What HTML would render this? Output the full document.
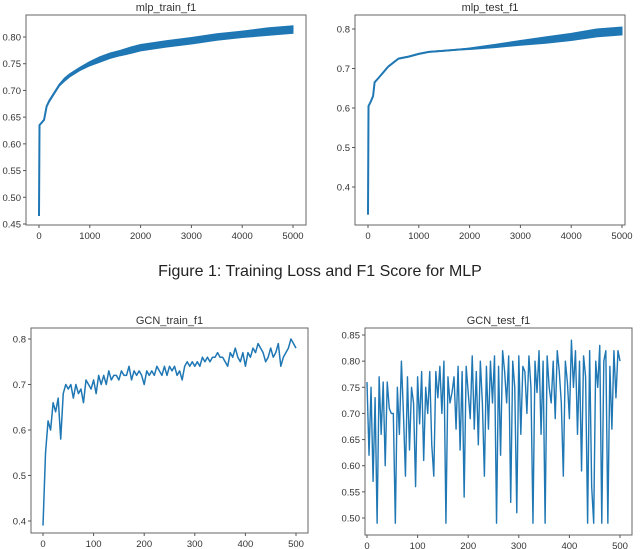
<!DOCTYPE html>
<html><head><meta charset="utf-8">
<style>
body{margin:0;background:#fff;width:640px;height:549px;overflow:hidden}
svg{display:block}
text{font-family:"Liberation Sans",sans-serif;fill:#333}
</style></head>
<body>
<svg id="fig" width="640" height="549">
<text x="320" y="276" text-anchor="middle" style="font-size:16px;fill:#222">Figure 1: Training Loss and F1 Score for MLP</text>
</svg>
<script>
// MLP train
const mlpTrainX=[0,10,100,150,200,300,400,500,600,800,1000,1200,1400,1600,1800,2000,2500,3000,3500,4000,4500,5000];
const mlpTrainY=[0.465,0.635,0.645,0.67,0.68,0.695,0.71,0.72,0.728,0.74,0.75,0.758,0.765,0.77,0.775,0.78,0.787,0.793,0.80,0.805,0.81,0.814];
const mlpTrainNoise=[0,0,0.001,0.001,0.002,0.002,0.002,0.003,0.003,0.003,0.004,0.005,0.005,0.005,0.006,0.006,0.006,0.006,0.006,0.006,0.007,0.007];
const mlpTrainTicksY=[0.45,0.50,0.55,0.60,0.65,0.70,0.75,0.80];
// MLP test
const mlpTestX=[0,10,50,100,130,200,300,400,500,600,800,1000,1200,1500,1800,2000,2500,3000,3500,4000,4500,5000];
const mlpTestY=[0.33,0.605,0.615,0.63,0.665,0.675,0.69,0.705,0.715,0.725,0.73,0.737,0.742,0.745,0.748,0.75,0.757,0.765,0.772,0.78,0.79,0.795];
const mlpTestNoise=[0,0,0,0,0,0,0,0,0.001,0.001,0.001,0.001,0.001,0.001,0.001,0.002,0.004,0.006,0.008,0.009,0.01,0.01];
const mlpTestTicksY=[0.4,0.5,0.6,0.7,0.8];
const mlpTicksX=[0,1000,2000,3000,4000,5000];
// GCN train (every 5 epochs)
const gcnTrainY=[0.39,0.55,0.62,0.60,0.66,0.64,0.67,0.58,0.68,0.70,0.69,0.70,0.67,0.70,0.68,0.69,0.66,0.71,0.70,0.69,0.71,0.68,0.72,0.70,0.72,0.70,0.73,0.71,0.72,0.72,0.71,0.73,0.72,0.72,0.74,0.71,0.73,0.72,0.73,0.72,0.70,0.73,0.72,0.73,0.72,0.74,0.73,0.72,0.74,0.72,0.74,0.73,0.74,0.72,0.73,0.71,0.74,0.75,0.74,0.75,0.74,0.75,0.74,0.76,0.75,0.76,0.75,0.76,0.76,0.77,0.76,0.76,0.75,0.74,0.77,0.76,0.78,0.76,0.75,0.77,0.74,0.77,0.76,0.78,0.77,0.79,0.78,0.77,0.75,0.76,0.78,0.76,0.77,0.79,0.74,0.76,0.77,0.78,0.80,0.79,0.78];
const gcnTrainTicksY=[0.4,0.5,0.6,0.7,0.8];
// GCN test (sampled)
const gcnTestY=[0.76,0.62,0.75,0.57,0.73,0.49,0.77,0.66,0.76,0.60,0.76,0.71,0.70,0.70,0.49,0.75,0.66,0.80,0.70,0.58,0.77,0.63,0.75,0.72,0.56,0.77,0.68,0.78,0.61,0.75,0.70,0.78,0.64,0.58,0.78,0.73,0.79,0.70,0.80,0.49,0.77,0.72,0.74,0.77,0.67,0.79,0.63,0.78,0.54,0.79,0.74,0.69,0.81,0.67,0.78,0.64,0.80,0.72,0.58,0.79,0.67,0.80,0.72,0.81,0.49,0.79,0.62,0.82,0.78,0.72,0.81,0.53,0.80,0.75,0.51,0.81,0.66,0.79,0.78,0.70,0.81,0.75,0.49,0.80,0.74,0.82,0.66,0.80,0.49,0.81,0.75,0.72,0.80,0.69,0.82,0.78,0.72,0.58,0.80,0.76,0.69,0.84,0.75,0.82,0.66,0.80,0.59,0.81,0.77,0.49,0.82,0.56,0.49,0.80,0.75,0.83,0.49,0.80,0.82,0.49,0.79,0.67,0.82,0.73,0.82,0.80];
const gcnTestTicksY=[0.50,0.55,0.60,0.65,0.70,0.75,0.80,0.85];
const gcnTicksX=[0,100,200,300,400,500];

const NS='http://www.w3.org/2000/svg';
const svg=document.getElementById('fig');
function mk(tag,attrs,parent){const e=document.createElementNS(NS,tag);for(const k in attrs)e.setAttribute(k,attrs[k]);(parent||svg).appendChild(e);return e;}

function panel(cfg){
  const g=mk('g',{});
  
  
  const sx=v=>cfg.px0+(v-cfg.x0)*(cfg.px1-cfg.px0)/(cfg.x1-cfg.x0);
  const sy=v=>cfg.py0+(v-cfg.y0)*(cfg.py1-cfg.py0)/(cfg.y1-cfg.y0);
  const fr=mk('rect',{x:cfg.bx0,y:cfg.by0,width:cfg.bx1-cfg.bx0,height:cfg.by1-cfg.by0,fill:'none',stroke:'#666','stroke-width':1},g);
  
  
  const t=mk('text',{x:(cfg.bx0+cfg.bx1)/2,y:cfg.by0-4,'text-anchor':'middle','font-size':'11'},g);
  t.textContent=cfg.title;
  
  
  cfg.ticksX.forEach(v=>{
    mk('line',{x1:sx(v),x2:sx(v),y1:cfg.by1,y2:cfg.by1+3,stroke:'#555'},g);
    const l=mk('text',{x:sx(v),y:cfg.by1+14,'text-anchor':'middle','font-size':'9.5'},g);
    l.textContent=v;
    
    
  });
  cfg.ticksY.forEach(v=>{
    mk('line',{x1:cfg.bx0-3,x2:cfg.bx0,y1:sy(v),y2:sy(v),stroke:'#555'},g);
    const l=mk('text',{x:cfg.bx0-5,y:sy(v)+3.5,'text-anchor':'end','font-size':'9.5'},g);
    l.textContent=v.toFixed(cfg.dec);
    
    
  });
  const xs=cfg.xs, ys=cfg.ys;
  if(cfg.noise){
    let up=[],dn=[];
    xs.forEach((x,i)=>{up.push(sx(x)+','+sy(ys[i]+cfg.noise[i]));dn.unshift(sx(x)+','+sy(ys[i]-cfg.noise[i]));});
    const b=mk('polygon',{points:up.concat(dn).join(' '),fill:'#1f77b4',stroke:'#1f77b4','stroke-width':1},g);
    
    
  }
  const p=mk('polyline',{points:xs.map((x,i)=>sx(x)+','+sy(ys[i])).join(' '),fill:'none',stroke:'#1f77b4','stroke-width':cfg.sw||1.6,'stroke-linejoin':'round'},g);
  
  
}

panel({name:'mlp-train-f1-chart',title:'mlp_train_f1',bx0:26,bx1:306,by0:15,by1:225,
  x0:0,x1:5000,px0:39,px1:293,y0:0.45,y1:0.80,py0:224,py1:37,
  ticksX:mlpTicksX,ticksY:mlpTrainTicksY,dec:2,xs:mlpTrainX,ys:mlpTrainY,noise:mlpTrainNoise,sw:2});
panel({name:'mlp-test-f1-chart',title:'mlp_test_f1',bx0:355,bx1:625,by0:15,by1:225,
  x0:0,x1:5000,px0:368,px1:622,y0:0.4,y1:0.8,py0:187,py1:29,
  ticksX:mlpTicksX,ticksY:mlpTestTicksY,dec:1,xs:mlpTestX,ys:mlpTestY,noise:mlpTestNoise,sw:2});
panel({name:'gcn-train-f1-chart',title:'GCN_train_f1',bx0:31,bx1:308,by0:328,by1:533,
  x0:0,x1:500,px0:43,px1:296,y0:0.4,y1:0.8,py0:521,py1:339,
  ticksX:gcnTicksX,ticksY:gcnTrainTicksY,dec:1,xs:gcnTrainY.map((_,i)=>i*500/(gcnTrainY.length-1)),ys:gcnTrainY,sw:1.5});
panel({name:'gcn-test-f1-chart',title:'GCN_test_f1',bx0:365,bx1:632,by0:328,by1:535,
  x0:0,x1:500,px0:367,px1:620,y0:0.5,y1:0.85,py0:518,py1:335,
  ticksX:gcnTicksX,ticksY:gcnTestTicksY,dec:2,xs:gcnTestY.map((_,i)=>i*500/(gcnTestY.length-1)),ys:gcnTestY,sw:1.4});
</script>
</body></html>
